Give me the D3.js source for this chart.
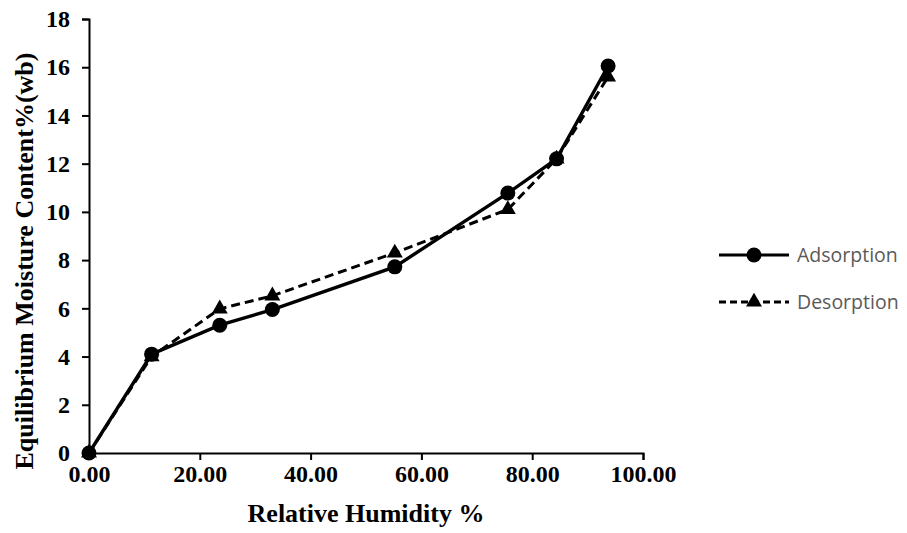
<!DOCTYPE html>
<html>
<head>
<meta charset="utf-8">
<script src="https://cdn.jsdelivr.net/npm/d3@7"></script>
<style>
  html, body { margin: 0; padding: 0; background: #fff; }
  svg { display: block; }
</style>
</head>
<body>
<svg id="chart" width="907" height="533"></svg>
<script>
// Relative humidity (%) at each measurement point
const relativeHumidity = [0, 11.3, 23.6, 33.1, 55.2, 75.6, 84.4, 93.7];
// Equilibrium moisture content, % wet basis
const adsorption = [0, 4.1, 5.3, 5.95, 7.72, 10.78, 12.2, 16.05];
const desorption = [0, 4.0, 5.98, 6.52, 8.3, 10.1, 12.2, 15.6];
const xTicks = [0, 20, 40, 60, 80, 100];
const yTicks = [0, 2, 4, 6, 8, 10, 12, 14, 16, 18];
const seriesNames = ["Adsorption", "Desorption"];

const svg = d3.select("#chart");
const margin = { left: 89, right: 264, top: 19, bottom: 80 };
const W = 907, H = 533;

const x = d3.scaleLinear().domain([0, 100]).range([margin.left, W - margin.right]);
const y = d3.scaleLinear().domain([0, 18]).range([H - margin.bottom, margin.top]);

const serif = "'Liberation Serif', 'Times New Roman', serif";

// Axes
const xAxis = svg.append("g")
  .attr("transform", `translate(0,${y(0)})`)
  .call(d3.axisBottom(x).tickValues(xTicks).tickFormat(d3.format(".2f")).tickSizeOuter(0).tickSize(7).tickPadding(5));
const yAxis = svg.append("g")
  .attr("transform", `translate(${x(0)},0)`)
  .call(d3.axisLeft(y).tickValues(yTicks).tickFormat(d3.format("d")).tickSizeOuter(0).tickSize(7).tickPadding(12));

[xAxis, yAxis].forEach(g => {
  g.attr("font-size", null).attr("font-family", null);
  g.select(".domain").attr("stroke", "#000").attr("stroke-width", 2);
  g.selectAll(".tick line").attr("stroke", "#000").attr("stroke-width", 2);
  g.selectAll(".tick text")
    .attr("fill", "#000")
    .style("font-family", serif)
    .style("font-weight", "bold")
    .style("font-size", "24px");
});

// Axis titles
svg.append("text")
  .attr("x", (x(0) + x(100)) / 2)
  .attr("y", 522)
  .attr("text-anchor", "middle")
  .style("font-family", serif)
  .style("font-weight", "bold")
  .style("font-size", "26px")
  .text("Relative Humidity %");

svg.append("text")
  .attr("transform", "translate(33,261) rotate(-90)")
  .attr("text-anchor", "middle")
  .style("font-family", serif)
  .style("font-weight", "bold")
  .style("font-size", "26px")
  .text("Equilibrium Moisture Content%(wb)");

// Series
const line = d3.line().x(d => x(d[0])).y(d => y(d[1]));
const adsPts = relativeHumidity.map((r, i) => [r, adsorption[i]]);
const desPts = relativeHumidity.map((r, i) => [r, desorption[i]]);
const tri = d3.symbol().type(d3.symbolTriangle).size(110);

// Desorption (dashed, triangles)
svg.append("path")
  .datum(desPts)
  .attr("fill", "none")
  .attr("stroke", "#000")
  .attr("stroke-width", 3)
  .attr("stroke-dasharray", "9,5")
  .attr("d", line);
svg.append("g").selectAll("path")
  .data(desPts)
  .join("path")
  .attr("transform", d => `translate(${x(d[0])},${y(d[1])})`)
  .attr("d", tri)
  .attr("fill", "#000");

// Adsorption (solid, circles)
svg.append("path")
  .datum(adsPts)
  .attr("fill", "none")
  .attr("stroke", "#000")
  .attr("stroke-width", 3.4)
  .attr("d", line);
svg.append("g").selectAll("circle")
  .data(adsPts)
  .join("circle")
  .attr("cx", d => x(d[0]))
  .attr("cy", d => y(d[1]))
  .attr("r", 7.5)
  .attr("fill", "#000");

// Legend
const legend = svg.append("g");
const legendY = [255, 302];
seriesNames.forEach((name, i) => {
  const g = legend.append("g").attr("transform", `translate(0,${legendY[i]})`);
  g.append("line")
    .attr("x1", 719).attr("x2", 789)
    .attr("stroke", "#000")
    .attr("stroke-width", 3)
    .attr("stroke-dasharray", i === 1 ? "7,4" : null);
  if (i === 0) {
    g.append("circle").attr("cx", 754).attr("r", 7.5).attr("fill", "#000");
  } else {
    g.append("path").attr("transform", "translate(754,0)").attr("d", tri).attr("fill", "#000");
  }
  g.append("text")
    .attr("x", 797)
    .attr("dy", "0.36em")
    .attr("fill", "#595959")
    .style("font-family", "'Open Sans', 'Liberation Sans', sans-serif")
    .style("font-size", "19.5px")
    .text(name);
});
</script>
</body>
</html>
